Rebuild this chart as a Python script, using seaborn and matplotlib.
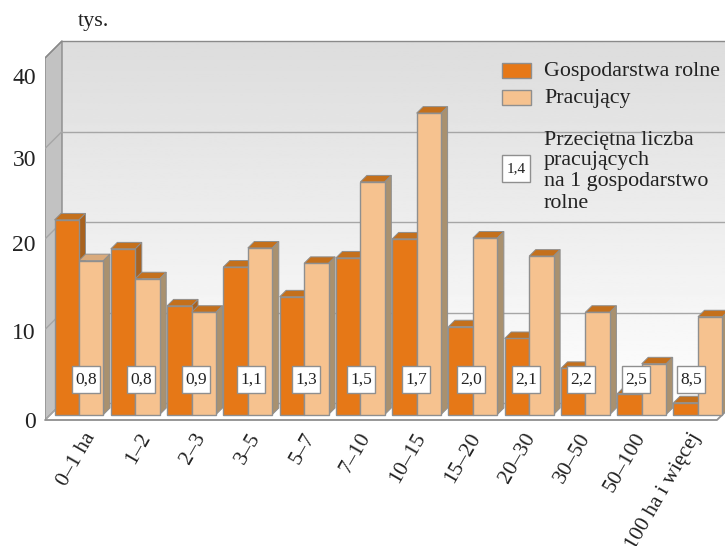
import matplotlib
matplotlib.use("Agg")
import matplotlib.pyplot as plt
from matplotlib.patches import Polygon, Rectangle
import numpy as np
import pandas as pd
import seaborn as sns

klasy = ["0–1 ha", "1–2", "2–3", "3–5", "5–7", "7–10", "10–15", "15–20",
         "20–30", "30–50", "50–100", "100 ha i więcej"]
gospodarstwa = [21.5, 18.3, 12.0, 16.3, 13.0, 17.3, 19.4, 9.7, 8.4, 5.1, 2.3, 1.3]
pracujacy = [17.0, 15.0, 11.3, 18.4, 16.7, 25.7, 33.3, 19.5, 17.5, 11.3, 5.6, 10.8]
przecietna = ["0,8", "0,8", "0,9", "1,1", "1,3", "1,5", "1,7", "2,0", "2,1", "2,2", "2,5", "8,5"]
y_ticks = [0, 10, 20, 30, 40]

ORANGE = "#e67817"
PEACH = "#f6c28f"
EDGE = "#8f8f8f"
INK = "#222222"

# uklad w pikselach obrazka
X0, STEP = 79.0, 56.27
Y0, UNIT = 414.5, 9.05
W, H = 725, 546


def dx(px):
    return px / STEP


def dy(px):
    return px / UNIT


def pt(x, y):
    # piksele obrazka -> dane
    return (x - X0) / STEP, (Y0 - y) / UNIT


sns.set_theme(style="white")
plt.rcParams["font.family"] = ["Liberation Serif", "DejaVu Sans"]

fig = plt.figure(figsize=(W / 100, H / 100), dpi=100)
ax = fig.add_axes([45 / W, 1 - 420 / H, 680 / W, 390 / H])

df = pd.DataFrame({
    "klasa": klasy * 2,
    "seria": ["Gospodarstwa rolne"] * 12 + ["Pracujący"] * 12,
    "wartosc": gospodarstwa + pracujacy,
})
sns.barplot(data=df, x="klasa", y="wartosc", hue="seria", palette=[ORANGE, PEACH],
            width=0.87, gap=0, saturation=1, legend=False, edgecolor=EDGE, linewidth=1,
            ax=ax, zorder=3)

# tylna sciana z gradientem
x_l, y_top = pt(62, 41)
x_r, y_bot = pt(725, 403)
grad = np.linspace(0.865, 0.995, 200).reshape(-1, 1)
ax.imshow(grad, cmap="gray", vmin=0, vmax=1, aspect="auto", zorder=0,
          extent=(x_l, x_r, y_bot, y_top))

# boczna sciana
ax.add_patch(Polygon([pt(45, 420), pt(62, 403), pt(62, 41), pt(45, 58)], closed=True,
                     facecolor="#c2c2c2", edgecolor="#8a8a8a", lw=1, zorder=1))

# linie siatki na obu scianach
for v in y_ticks:
    back_y = 403 - v * 9.05
    front_y = 420 - v * 9.05
    col = "#8a8a8a" if v == 40 else "#a6a6a6"
    ax.plot(*zip(pt(62, back_y), pt(725, back_y)), color=col, lw=1, zorder=1)
    ax.plot(*zip(pt(45, front_y), pt(62, back_y)), color=col, lw=1, zorder=1)

# podloga
ax.plot(*zip(pt(45, 420), pt(717, 420), pt(725, 412)), color="#8f8f8f", lw=1.3, zorder=2,
        clip_on=False)

# efekt 3D z prostokatow seaborna
depth_x, depth_y = dx(6.5), dy(6.5)
for i, bar in enumerate(ax.patches):
    if not isinstance(bar, Rectangle):
        continue
    x, y = bar.get_x(), bar.get_y()
    w, h = bar.get_width(), bar.get_height()
    is_peach = i >= 12
    z = 4 if is_peach else 3
    bar.set_zorder(z + 0.2)
    top_col = "#d9aa7c" if i == 12 else "#c4701c"
    side_col = "#a9916f" if is_peach else "#a8621f"
    ax.add_patch(Polygon([(x, y + h), (x + depth_x, y + h + depth_y),
                          (x + w + depth_x, y + h + depth_y), (x + w, y + h)], closed=True,
                         facecolor=top_col, edgecolor=EDGE, lw=0.7, zorder=z))
    ax.add_patch(Polygon([(x + w, y), (x + w + depth_x, y + depth_y),
                          (x + w + depth_x, y + h + depth_y), (x + w, y + h)], closed=True,
                         facecolor=side_col, edgecolor=EDGE, lw=0.7, zorder=z))

# ramki ze srednia liczba pracujacych
for i, txt in enumerate(przecietna):
    cx = 86 + 55 * i
    left, bottom = pt(cx - 14, 393)
    ax.add_patch(Rectangle((left, bottom), dx(28), dy(27), facecolor="white", edgecolor=EDGE,
                           lw=1, zorder=6))
    ax.text(*pt(cx, 379.5), txt, fontsize=12.5, color=INK, ha="center", va="center", zorder=7)

# legenda
ax.add_patch(Rectangle(pt(502, 78), dx(29), dy(15), facecolor=ORANGE, edgecolor=EDGE, lw=1, zorder=6))
ax.add_patch(Rectangle(pt(502, 105), dx(29), dy(15), facecolor=PEACH, edgecolor=EDGE, lw=1, zorder=6))
ax.add_patch(Rectangle(pt(502, 182), dx(28), dy(27), facecolor="white", edgecolor=EDGE, lw=1, zorder=6))
ax.text(*pt(516, 168.5), "1,4", fontsize=11, color=INK, ha="center", va="center", zorder=7)
ax.text(*pt(544, 71), "Gospodarstwa rolne", fontsize=15.8, color=INK, va="center", zorder=7)
ax.text(*pt(544, 98), "Pracujący", fontsize=15.8, color=INK, va="center", zorder=7)
for line, ly in zip(["Przeciętna liczba", "pracujących", "na 1 gospodarstwo", "rolne"],
                    [140, 160.5, 181, 203]):
    ax.text(*pt(544, ly), line, fontsize=15.8, color=INK, va="center", zorder=7)

ax.text(*pt(78, 21), "tys.", fontsize=16, color=INK, va="center", clip_on=False)

ax.set_xlim((45 - X0) / STEP, (725 - X0) / STEP)
ax.set_ylim((Y0 - 420) / UNIT, (Y0 - 30) / UNIT)

# opisy osi sa recznie przesuniete tak jak w oryginale
label_y = [419.5, 331, 243, 158, 76]
ax.set_yticks([pt(0, p)[1] for p in label_y], [str(v) for v in y_ticks], fontsize=17, color=INK)
ax.set_xticks([pt(83 + 55 * i, 0)[0] for i in range(12)], klasy, rotation=60, ha="right", va="top",
              rotation_mode="anchor", fontsize=15.6, color=INK)
ax.tick_params(axis="both", length=0)
ax.tick_params(axis="y", pad=6.5)
ax.tick_params(axis="x", pad=7)
ax.set_xlabel("")
ax.set_ylabel("")
sns.despine(ax=ax, left=True, bottom=True)

fig.savefig("out.png", dpi=100, facecolor="white")
